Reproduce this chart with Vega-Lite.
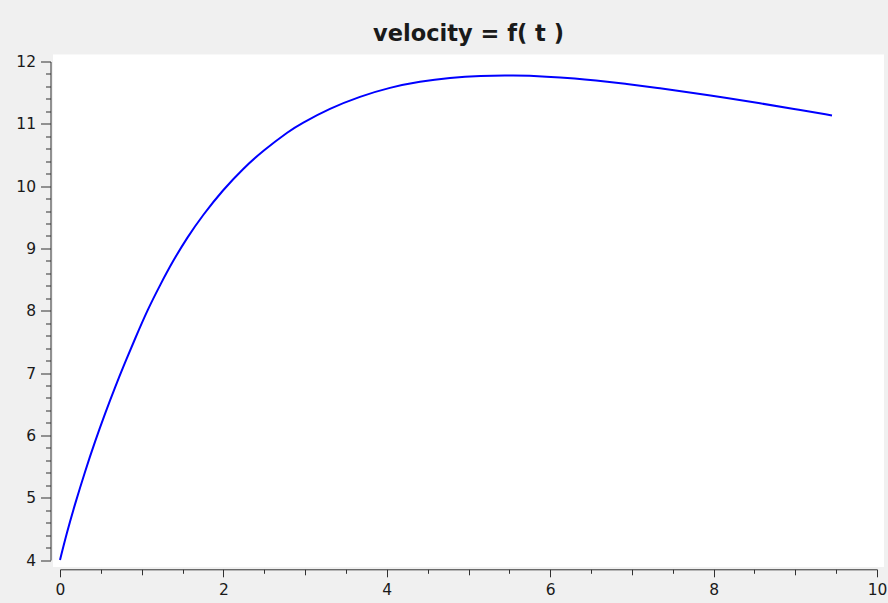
{
  "$schema": "https://vega.github.io/schema/vega-lite/v6.json",
  "autosize": "none",
  "padding": {"left": 60, "top": 61.5, "right": 11, "bottom": 43},
  "width": 817,
  "height": 498.5,
  "background": "#f0f0f0",
  "view": {"fill": "#ffffff", "stroke": "#ffffff", "strokeWidth": 14},
  "title": {
    "text": "velocity = f( t )",
    "font": "DejaVu Sans",
    "fontSize": 22.5,
    "fontWeight": "bold",
    "color": "#1a1a1a",
    "anchor": "middle",
    "offset": 9
  },
  "data": {
    "values": [
      {"t": 0.0, "v": 4.0},
      {"t": 0.082, "v": 4.43},
      {"t": 0.184, "v": 4.9},
      {"t": 0.306, "v": 5.42},
      {"t": 0.428, "v": 5.9},
      {"t": 0.551, "v": 6.35},
      {"t": 0.673, "v": 6.77},
      {"t": 0.796, "v": 7.17},
      {"t": 0.918, "v": 7.55},
      {"t": 1.077, "v": 8.03},
      {"t": 1.224, "v": 8.41},
      {"t": 1.383, "v": 8.8},
      {"t": 1.554, "v": 9.17},
      {"t": 1.75, "v": 9.54},
      {"t": 1.995, "v": 9.94},
      {"t": 2.24, "v": 10.28},
      {"t": 2.485, "v": 10.57},
      {"t": 2.815, "v": 10.895},
      {"t": 2.938, "v": 10.995},
      {"t": 3.305, "v": 11.25},
      {"t": 3.672, "v": 11.44},
      {"t": 4.039, "v": 11.585},
      {"t": 4.406, "v": 11.68},
      {"t": 4.773, "v": 11.74},
      {"t": 5.141, "v": 11.772},
      {"t": 5.545, "v": 11.778},
      {"t": 5.961, "v": 11.76},
      {"t": 6.328, "v": 11.725},
      {"t": 6.524, "v": 11.7},
      {"t": 6.94, "v": 11.64},
      {"t": 7.344, "v": 11.572},
      {"t": 7.748, "v": 11.495},
      {"t": 8.164, "v": 11.413},
      {"t": 8.568, "v": 11.33},
      {"t": 8.972, "v": 11.243},
      {"t": 9.449, "v": 11.135}
    ]
  },
  "mark": {"type": "line", "color": "#0000ff", "strokeWidth": 2, "interpolate": "basis"},
  "encoding": {
    "x": {
      "field": "t",
      "type": "quantitative",
      "scale": {"domain": [0, 10], "nice": false, "zero": false},
      "axis": {
        "title": null,
        "values": [0, 0.5, 1, 1.5, 2, 2.5, 3, 3.5, 4, 4.5, 5, 5.5, 6, 6.5, 7, 7.5, 8, 8.5, 9, 9.5, 10],
        "labelExpr": "datum.value % 2 === 0 ? format(datum.value, 'd') : ''",
        "tickSize": {"condition": [{"test": "datum.value % 2 === 0", "value": 7.5}, {"test": "datum.value % 1 === 0", "value": 5.5}], "value": 4},
        "offset": 9.3,
        "grid": false,
        "domainColor": "#303030",
        "tickColor": "#303030",
        "labelColor": "#1a1a1a",
        "labelFont": "DejaVu Sans",
        "labelFontSize": 15.5,
        "labelPadding": 6,
        "labelFlush": false,
        "labelOverlap": false
      }
    },
    "y": {
      "field": "v",
      "type": "quantitative",
      "scale": {"domain": [4, 12], "nice": false, "zero": false},
      "axis": {
        "title": null,
        "values": [4, 4.2, 4.4, 4.6, 4.8, 5, 5.2, 5.4, 5.6, 5.8, 6, 6.2, 6.4, 6.6, 6.8, 7, 7.2, 7.4, 7.6, 7.8, 8, 8.2, 8.4, 8.6, 8.8, 9, 9.2, 9.4, 9.6, 9.8, 10, 10.2, 10.4, 10.6, 10.8, 11, 11.2, 11.4, 11.6, 11.8, 12],
        "labelExpr": "abs(datum.value - round(datum.value)) < 0.001 ? format(datum.value, 'd') : ''",
        "tickSize": {"condition": {"test": "abs(datum.value - round(datum.value)) < 0.001", "value": 10}, "value": 5},
        "offset": 9.5,
        "grid": false,
        "domainColor": "#303030",
        "tickColor": "#303030",
        "labelColor": "#1a1a1a",
        "labelFont": "DejaVu Sans",
        "labelFontSize": 15.5,
        "labelPadding": 5,
        "labelFlush": false,
        "labelOverlap": false
      }
    }
  }
}
